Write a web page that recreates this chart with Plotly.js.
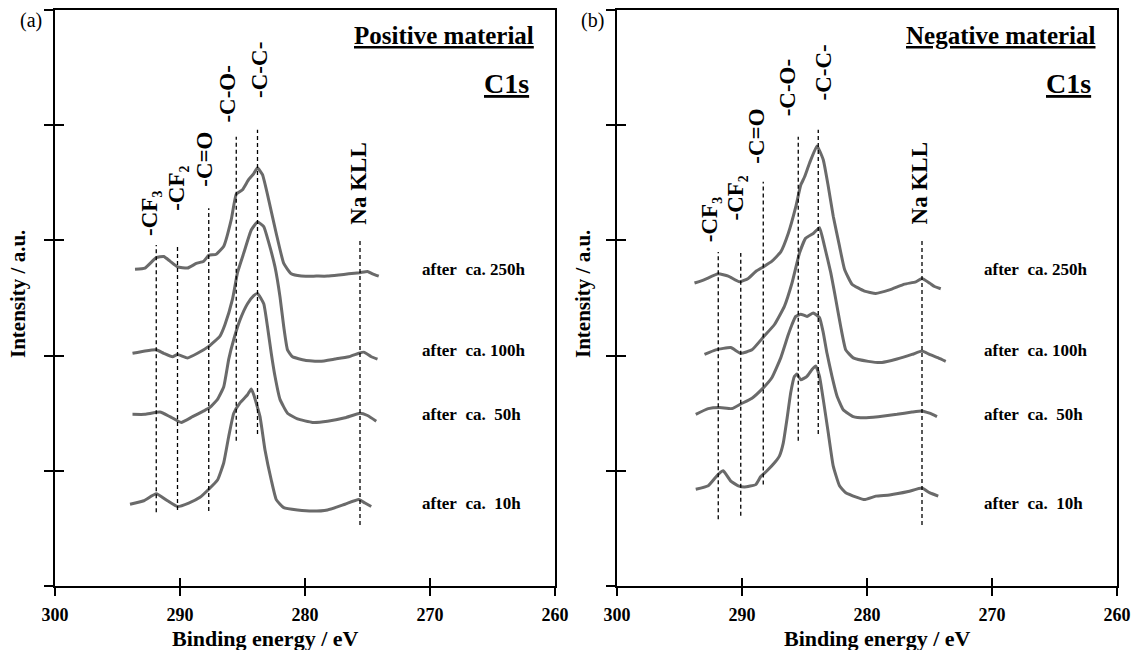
<!DOCTYPE html>
<html>
<head>
<meta charset="utf-8">
<script src="https://cdn.plot.ly/plotly-3.0.1.min.js"></script>
<style>html,body{margin:0;padding:0;background:#fff;}</style>
</head>
<body>
<div id="chart" style="width:1131px;height:650px;"></div>
<script>
// ---------- Panel (a): Positive material ----------
const energyA250 = [293.6,292.8,291.9,291.3,290.8,290.2,289.4,288.7,288.1,287.7,287.1,286.5,285.9,285.5,285.0,284.5,284.1,283.8,283.4,282.9,282.3,281.7,281.1,280.3,279.1,278.2,277.3,276.5,275.6,275.0,274.6,274.1];
const intensA250 = [2.75,2.76,2.85,2.86,2.82,2.77,2.76,2.80,2.82,2.87,2.88,2.95,3.18,3.40,3.44,3.53,3.58,3.63,3.57,3.35,3.06,2.80,2.71,2.69,2.69,2.69,2.70,2.71,2.72,2.73,2.71,2.69];

const energyA100 = [293.8,292.8,291.9,291.3,290.6,290.2,289.4,288.6,287.7,286.8,286.4,285.8,285.4,284.9,284.3,283.8,283.3,282.9,282.4,282.0,281.7,281.4,281.0,280.0,278.8,277.6,276.5,275.7,275.3,274.7,274.2];
const intensA100 = [2.02,2.04,2.05,2.02,1.99,2.01,1.98,2.02,2.08,2.17,2.27,2.49,2.72,2.89,3.09,3.16,3.12,2.98,2.77,2.51,2.25,2.05,1.99,1.96,1.95,1.97,1.99,2.02,2.03,1.99,1.97];

const energyA50 = [293.8,292.8,291.6,290.8,289.9,289.0,288.1,287.6,287.0,286.5,286.1,285.7,285.2,284.6,284.1,283.8,283.3,283.0,282.7,282.4,282.0,281.4,280.6,279.4,278.2,276.8,275.6,275.0,274.3];
const intensA50 = [1.49,1.49,1.51,1.47,1.42,1.47,1.52,1.55,1.62,1.73,1.97,2.14,2.31,2.45,2.52,2.54,2.45,2.25,2.02,1.82,1.62,1.50,1.45,1.42,1.43,1.46,1.50,1.48,1.43];

const energyA10 = [294.0,292.9,291.9,291.0,290.2,289.3,288.4,287.7,287.0,286.5,286.1,285.7,285.2,284.6,284.3,284.1,283.6,283.2,282.7,282.3,281.7,280.6,279.4,278.2,276.8,275.7,275.2,274.7];
const intensA10 = [0.71,0.74,0.80,0.74,0.69,0.72,0.77,0.84,0.92,1.07,1.30,1.50,1.59,1.66,1.71,1.66,1.47,1.18,0.92,0.75,0.68,0.66,0.65,0.66,0.71,0.75,0.72,0.69];

// ---------- Panel (b): Negative material ----------
const energyB250 = [293.8,293.0,291.9,291.1,290.2,289.5,288.9,288.3,287.6,286.9,286.3,285.7,285.3,285.0,284.6,284.0,283.5,283.1,282.7,282.2,281.8,281.2,280.2,279.3,278.2,277.0,276.1,275.6,275.0,274.6,274.1];
const intensB250 = [2.63,2.66,2.71,2.69,2.64,2.67,2.73,2.77,2.82,2.90,3.06,3.29,3.48,3.55,3.67,3.82,3.70,3.47,3.21,2.95,2.75,2.62,2.56,2.54,2.57,2.62,2.64,2.67,2.63,2.60,2.58];

const energyB100 = [293.0,292.1,290.9,290.1,289.2,288.3,287.4,286.6,286.0,285.4,284.9,284.3,283.8,283.4,282.9,282.5,282.1,281.7,281.1,279.9,278.8,277.6,276.4,275.6,275.0,274.3,273.7];
const intensB100 = [2.01,2.05,2.07,2.02,2.05,2.16,2.27,2.43,2.63,2.89,3.02,3.06,3.11,2.95,2.72,2.49,2.25,2.05,1.98,1.95,1.94,1.97,2.01,2.04,2.01,1.98,1.95];

const energyB50 = [293.7,292.7,291.8,290.8,290.1,289.2,288.3,287.6,286.9,286.3,286.0,285.7,285.3,284.8,284.3,283.8,283.5,283.2,282.8,282.4,281.9,281.1,280.2,279.1,277.6,276.4,275.6,275.0,274.4];
const intensB50 = [1.49,1.54,1.55,1.54,1.58,1.63,1.72,1.81,1.98,2.18,2.27,2.34,2.36,2.34,2.37,2.33,2.20,2.02,1.82,1.65,1.53,1.47,1.46,1.47,1.49,1.51,1.52,1.50,1.47];

const energyB10 = [293.7,292.7,291.9,291.5,290.9,290.3,289.8,288.9,288.5,288.0,287.4,287.0,286.7,286.4,286.1,285.8,285.6,285.3,284.8,284.4,284.1,283.8,283.5,283.1,282.7,282.2,281.7,280.8,280.2,279.3,278.2,276.7,275.6,275.0,274.3];
const intensB10 = [0.84,0.87,0.97,1.00,0.91,0.87,0.86,0.88,0.95,1.00,1.07,1.13,1.24,1.45,1.68,1.82,1.84,1.79,1.82,1.88,1.91,1.82,1.62,1.33,1.04,0.87,0.81,0.77,0.75,0.78,0.79,0.82,0.85,0.81,0.78];

// ---------- Reference (dashed) lines and labels ----------
const refLabels = ['-CF\u2083', '-CF\u2082', '-C=O', '-C-O-', '-C-C-', 'Na KLL'];
const refEnergyA = [291.9, 290.2, 287.7, 285.5, 283.8, 275.6];
const refTopA    = [2.96, 2.95, 3.28, 3.90, 3.96, 3.02];
const refBottomA = [0.64, 0.66, 0.65, 1.26, 1.32, 0.53];
const labelEnergyA = [292.4, 290.3, 288.0, 286.2, 283.6, 275.7];
const labelYA      = [3.23, 3.45, 3.70, 4.27, 4.48, 3.49];

const refEnergyB = [291.9, 290.1, 288.3, 285.5, 283.9, 275.6];
const refTopB    = [2.90, 2.89, 3.51, 3.90, 3.96, 3.02];
const refBottomB = [0.58, 0.61, 0.88, 1.26, 1.32, 0.53];
const labelEnergyB = [292.6, 290.5, 288.8, 286.4, 283.5, 275.8];
const labelYB      = [3.18, 3.37, 3.90, 4.32, 4.46, 3.49];

const NB = '\u00a0';
const sampleLabels = ['after' + NB + NB + 'ca. 250h', 'after' + NB + NB + 'ca. 100h',
  'after' + NB + NB + 'ca.' + NB + NB + '50h', 'after' + NB + NB + 'ca.' + NB + NB + '10h'];
const sampleLabelY = [2.75, 2.04, 1.49, 0.72];
const sampleLabelX = 270.8;

const panelTitles = ['Positive material', 'Negative material'];
const panelTags = ['(a)', '(b)'];
const xTickVals = [300, 290, 280, 270, 260];
const yTickVals = [0, 1, 2, 3, 4, 5];

// ---------- Build ----------
const SERIF = 'Liberation Serif, Times New Roman, serif';
const curveColor = '#6a6a6a';
const traces = [];

function addCurve(x, y, xa, ya) {
  traces.push({x: x, y: y, xaxis: xa, yaxis: ya, type: 'scatter', mode: 'lines',
    line: {color: curveColor, width: 3, shape: 'spline', smoothing: 0.4}, hoverinfo: 'skip'});
}
addCurve(energyA250, intensA250, 'x', 'y');
addCurve(energyA100, intensA100, 'x', 'y');
addCurve(energyA50, intensA50, 'x', 'y');
addCurve(energyA10, intensA10, 'x', 'y');
addCurve(energyB250, intensB250, 'x2', 'y2');
addCurve(energyB100, intensB100, 'x2', 'y2');
addCurve(energyB50, intensB50, 'x2', 'y2');
addCurve(energyB10, intensB10, 'x2', 'y2');

function addRefs(energies, tops, bottoms, xa, ya) {
  for (let i = 0; i < energies.length; i++) {
    traces.push({x: [energies[i], energies[i]], y: [bottoms[i], tops[i]], xaxis: xa, yaxis: ya,
      type: 'scatter', mode: 'lines', line: {color: '#000', width: 1.3, dash: '4px,3px'}, hoverinfo: 'skip'});
  }
}
addRefs(refEnergyA, refTopA, refBottomA, 'x', 'y');
addRefs(refEnergyB, refTopB, refBottomB, 'x2', 'y2');

// invisible traces to create overlay axes for crossing ticks
traces.push({x: [], y: [], xaxis: 'x3', yaxis: 'y3', type: 'scatter', mode: 'lines', hoverinfo: 'skip'});
traces.push({x: [], y: [], xaxis: 'x4', yaxis: 'y4', type: 'scatter', mode: 'lines', hoverinfo: 'skip'});

const W = 1131, H = 650;
const domYA = [1 - 586 / H, 1 - 10 / H];
const domXA = [55 / W, 555 / W];
const domXB = [617 / W, 1117 / W];

const tickFont = {family: SERIF, size: 18, color: '#000', weight: 'bold'};

function mainX(domain, anchor) {
  return {domain: domain, anchor: anchor, range: [300, 260], tickvals: xTickVals, ticks: 'outside',
    ticklen: 8, tickwidth: 2, tickcolor: '#000', showline: true, linewidth: 2, linecolor: '#000',
    mirror: true, showgrid: false, zeroline: false, tickfont: tickFont, ticklabelstandoff: 3};
}
function mainY(anchor) {
  return {domain: domYA, anchor: anchor, range: [0, 5], tickvals: yTickVals, ticks: 'outside',
    ticklen: 9, tickwidth: 2, tickcolor: '#000', showline: true, linewidth: 2, linecolor: '#000',
    mirror: true, showgrid: false, zeroline: false, showticklabels: false};
}
function overX(over, anchor) {
  return {overlaying: over, anchor: anchor, range: [300, 260], tickvals: xTickVals, ticks: 'inside',
    ticklen: 8, tickwidth: 2, tickcolor: '#000', showline: false, showgrid: false, zeroline: false,
    showticklabels: false, side: 'bottom'};
}
function overY(over, anchor) {
  return {overlaying: over, anchor: anchor, range: [0, 5], tickvals: yTickVals, ticks: 'inside',
    ticklen: 9, tickwidth: 2, tickcolor: '#000', showline: false, showgrid: false, zeroline: false,
    showticklabels: false, side: 'left'};
}

const annotations = [];
function addLabels(ex, ey, xr, yr) {
  for (let i = 0; i < refLabels.length; i++) {
    annotations.push({x: ex[i], y: ey[i], xref: xr, yref: yr, text: refLabels[i], textangle: -90,
      showarrow: false, xanchor: 'center', yanchor: 'middle',
      font: {family: SERIF, size: 23, color: '#000', weight: 'bold'}});
  }
  for (let i = 0; i < sampleLabels.length; i++) {
    annotations.push({x: sampleLabelX, y: sampleLabelY[i], xref: xr, yref: yr, text: sampleLabels[i],
      showarrow: false, xanchor: 'left', yanchor: 'middle',
      font: {family: SERIF, size: 17, color: '#000', weight: 'bold'}});
  }
}
addLabels(labelEnergyA, labelYA, 'x', 'y');
addLabels(labelEnergyB, labelYB, 'x2', 'y2');

[['x', 'y'], ['x2', 'y2']].forEach((ax, k) => {
  annotations.push({x: 261.5, y: 4.78, xref: ax[0], yref: ax[1], text: panelTitles[k], showarrow: false,
    xanchor: 'right', yanchor: 'middle',
    font: {family: SERIF, size: 25, color: '#000', weight: 'bold', lineposition: 'under'}});
  annotations.push({x: 261.9, y: 4.36, xref: ax[0], yref: ax[1], text: 'C1s', showarrow: false,
    xanchor: 'right', yanchor: 'middle',
    font: {family: SERIF, size: 28, color: '#000', weight: 'bold', lineposition: 'under'}});
});
// panel tags and axis titles (paper coords)
annotations.push({x: 31 / W, y: 1 - 20 / H, xref: 'paper', yref: 'paper', text: panelTags[0], showarrow: false,
  xanchor: 'center', yanchor: 'middle', font: {family: SERIF, size: 20, color: '#000'}});
annotations.push({x: 592 / W, y: 1 - 20 / H, xref: 'paper', yref: 'paper', text: panelTags[1], showarrow: false,
  xanchor: 'center', yanchor: 'middle', font: {family: SERIF, size: 20, color: '#000'}});
[[18, 265], [583, 878]].forEach(p => {
  annotations.push({x: p[0] / W, y: 1 - 294 / H, xref: 'paper', yref: 'paper', text: 'Intensity / a.u.',
    textangle: -90, showarrow: false, xanchor: 'center', yanchor: 'middle',
    font: {family: SERIF, size: 21, color: '#000', weight: 'bold'}});
  annotations.push({x: p[1] / W, y: 1 - 638 / H, xref: 'paper', yref: 'paper', text: 'Binding energy / eV',
    showarrow: false, xanchor: 'center', yanchor: 'middle',
    font: {family: SERIF, size: 22, color: '#000', weight: 'bold'}});
});

const layout = {
  width: W, height: H, margin: {l: 0, r: 0, t: 0, b: 0},
  paper_bgcolor: '#fff', plot_bgcolor: 'rgba(0,0,0,0)', showlegend: false,
  xaxis: mainX(domXA, 'y'), yaxis: mainY('x'),
  xaxis2: mainX(domXB, 'y2'), yaxis2: mainY('x2'),
  xaxis3: overX('x', 'y'), yaxis3: overY('y', 'x'),
  xaxis4: overX('x2', 'y2'), yaxis4: overY('y2', 'x2'),
  annotations: annotations
};

Plotly.newPlot('chart', traces, layout, {staticPlot: true, displayModeBar: false});
</script>
</body>
</html>
